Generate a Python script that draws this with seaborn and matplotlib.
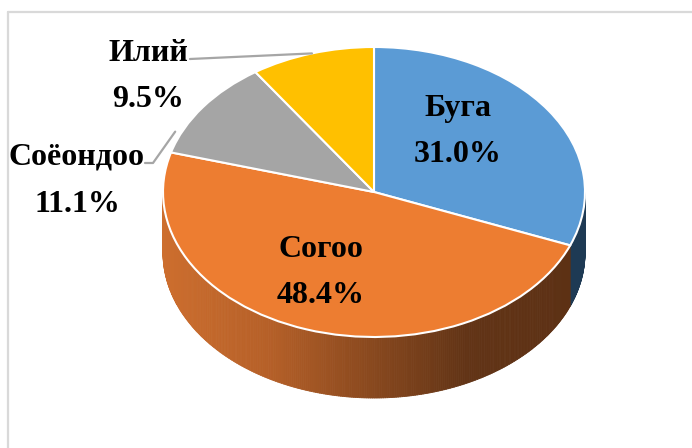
import numpy as np
import seaborn as sns
import matplotlib.pyplot as plt
from matplotlib.collections import PolyCollection
from matplotlib.lines import Line2D

# --- data ---
names = ['Буга', 'Согоо', 'Соёондоо', 'Илий']
shares = [31.0, 48.4, 11.1, 9.5]
colors = ['#5B9BD5', '#ED7D31', '#A5A5A5', '#FFC000']

sns.set_theme(style='white')
plt.rcParams['font.family'] = ['Liberation Serif', 'DejaVu Serif']

W, H = 692, 448
fig = plt.figure(figsize=(W / 100, H / 100), dpi=100)
ax = fig.add_axes([0, 0, 1, 1])

# ellipse geometry of the tilted pie (pixels)
cx, cy, rx, ry, depth = 374, 192, 211, 145, 61

wedges, _ = ax.pie(shares, colors=colors, startangle=90, counterclock=False,
                   wedgeprops=dict(edgecolor='white', linewidth=1.5), radius=1)
for w in wedges:
    w.set_zorder(3)
ax.set_aspect('auto')
ax.set_xlim(-cx / rx, (W - cx) / rx)
ax.set_ylim((cy - H) / ry, cy / ry)
ax.axis('off')

# --- side wall (shaded strips under the front half) ---
d = depth / ry


def wall_color(i, xpos):
    t = (xpos + 1) / 2
    if i == 0:
        return (np.interp(t, [0, 1], [40, 30]) / 255,
                np.interp(t, [0, 1], [70, 58]) / 255,
                np.interp(t, [0, 1], [98, 84]) / 255)
    r = np.interp(t, [0, 0.25, 0.5, 0.72, 1.0], [205, 182, 136, 98, 92])
    g = np.interp(t, [0, 0.25, 0.5, 0.72, 1.0], [110, 96, 72, 52, 48])
    b = np.interp(t, [0, 0.25, 0.5, 0.72, 1.0], [46, 40, 30, 22, 20])
    return (r / 255, g / 255, b / 255)


polys, pcols = [], []
for i, w in enumerate(wedges):
    th = np.radians(np.linspace(w.theta1, w.theta2, 300))
    for a, b in zip(th[:-1], th[1:]):
        m = (a + b) / 2
        if np.sin(m) >= 0:
            continue
        polys.append([(np.cos(a), np.sin(a)), (np.cos(b), np.sin(b)),
                      (np.cos(b), np.sin(b) - d), (np.cos(a), np.sin(a) - d)])
        pcols.append(wall_color(i, np.cos(m)))
ax.add_collection(PolyCollection(polys, facecolors=pcols, edgecolors=pcols,
                                 linewidths=0.6, zorder=1))

# --- labels ---
def fig_xy(px, py):
    return px / W, 1 - py / H


label_pos = {  # (x centre, name baseline, percent baseline) in pixels
    'Буга': (458, 116, 162),
    'Согоо': (321, 257, 303),
    'Соёондоо': (77, 165, 212),
    'Илий': (148, 61, 107),
}
fs = 23
for n, v in zip(names, shares):
    x, y1, y2 = label_pos[n]
    fig.text(*fig_xy(x, y1), n, ha='center', va='baseline', fontsize=fs,
             fontweight='bold', color='black', zorder=5)
    fig.text(*fig_xy(x, y2), f'{v:.1f}%', ha='center', va='baseline',
             fontsize=fs, fontweight='bold', color='black', zorder=5)


def edge_point(angle_deg, r=1.0):
    a = np.radians(angle_deg)
    disp = ax.transData.transform((r * np.cos(a), r * np.sin(a)))
    return fig.transFigure.inverted().transform(disp)


lc = '#A6A6A6'
w_il = wedges[3]
p_il = edge_point((w_il.theta1 + w_il.theta2) / 2)
s_il = fig_xy(190, 59)
fig.add_artist(Line2D([s_il[0], p_il[0]], [s_il[1], p_il[1]], color=lc, lw=1.6))

w_so = wedges[2]
p_so = edge_point(w_so.theta1 + 0.8 * (w_so.theta2 - w_so.theta1), 1.03)
s1, s2 = fig_xy(145, 163), fig_xy(153, 163)
fig.add_artist(Line2D([s1[0], s2[0], p_so[0]], [s1[1], s2[1], p_so[1]],
                      color=lc, lw=1.6))

# --- chart frame (only top and left edges fall inside the picture) ---
fx, fy = fig_xy(7.5, 12)
fig.add_artist(Line2D([fx, 1], [fy, fy], color='#D9D9D9', lw=1.6))
fig.add_artist(Line2D([fx, fx], [fy, 0], color='#D9D9D9', lw=1.6))

fig.savefig('out.png', dpi=100, facecolor='white')
